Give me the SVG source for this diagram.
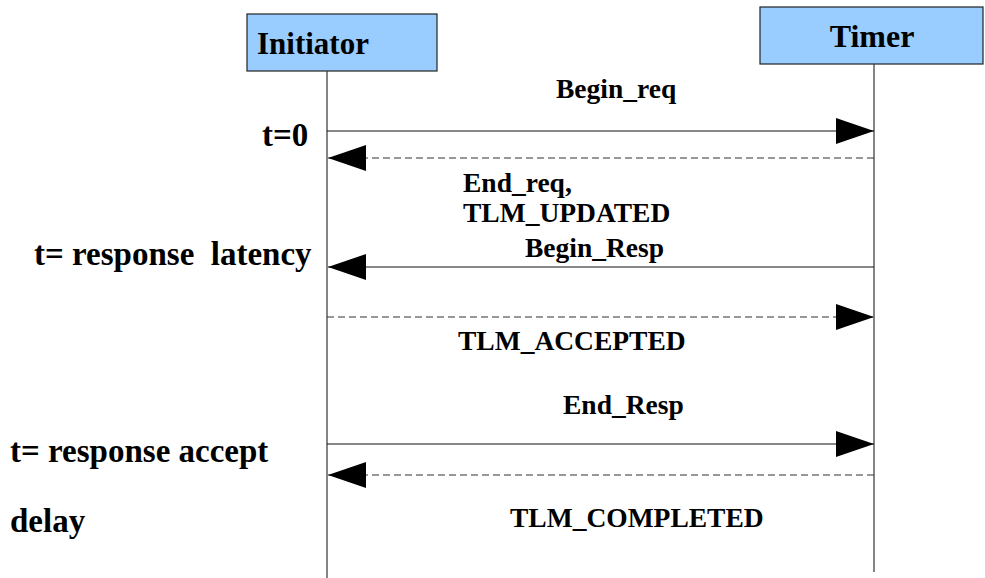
<svg xmlns="http://www.w3.org/2000/svg" width="985" height="578" viewBox="0 0 985 578">
<defs>
<marker id="ah" markerUnits="userSpaceOnUse" markerWidth="38" markerHeight="26" refX="38" refY="13" orient="auto" viewBox="0 0 38 26">
<path d="M0,0 L38,13 L0,26 z" fill="#000"/>
</marker>
<style>
text{font-family:"Liberation Serif","Times New Roman",serif;font-weight:bold;fill:#000;white-space:pre}
.box{fill:#99ccff;stroke:#222;stroke-width:1.2}
.life{stroke:#333;stroke-width:1.2;fill:none}
.msg{stroke:#111;stroke-width:1.2;fill:none;marker-end:url(#ah)}
.dash{stroke:#333;stroke-width:1.2;stroke-dasharray:7 4;fill:none;marker-end:url(#ah)}
.lbl{font-size:27.5px}
.side{font-size:33px}
</style>
</defs>
<rect width="985" height="578" fill="#fff"/>
<g id="initiator">
<rect class="box" x="247" y="14" width="190" height="57"/>
<text x="257" y="54" font-size="31">Initiator</text>
<line class="life" x1="327" y1="71" x2="327" y2="578"/>
</g>
<g id="timer">
<rect class="box" x="760" y="7" width="223" height="57"/>
<text x="872" y="47" font-size="32" text-anchor="middle">Timer</text>
<line class="life" x1="874" y1="64" x2="874" y2="572"/>
</g>
<g id="connectors">
<line class="msg" x1="327" y1="131" x2="874" y2="131"/>
<line class="dash" x1="874" y1="158" x2="328" y2="158"/>
<line class="msg" x1="874" y1="267" x2="328" y2="267"/>
<line class="dash" x1="327" y1="317" x2="874" y2="317"/>
<line class="msg" x1="327" y1="444" x2="874" y2="444"/>
<line class="dash" x1="874" y1="475" x2="328" y2="475"/>
</g>
<g id="labels">
<text class="lbl" x="556" y="98">Begin_req</text>
<text class="lbl" x="463" y="192">End_req,</text>
<text class="lbl" x="463" y="222">TLM_UPDATED</text>
<text class="lbl" x="525" y="257">Begin_Resp</text>
<text class="lbl" x="458" y="350">TLM_ACCEPTED</text>
<text class="lbl" x="563" y="414">End_Resp</text>
<text class="lbl" x="510" y="527">TLM_COMPLETED</text>
<text class="side" x="262" y="146">t=0</text>
<text class="side" x="34" y="265">t= response  latency</text>
<text class="side" x="10" y="462">t= response accept</text>
<text class="side" x="10" y="532">delay</text>
</g>
</svg>
